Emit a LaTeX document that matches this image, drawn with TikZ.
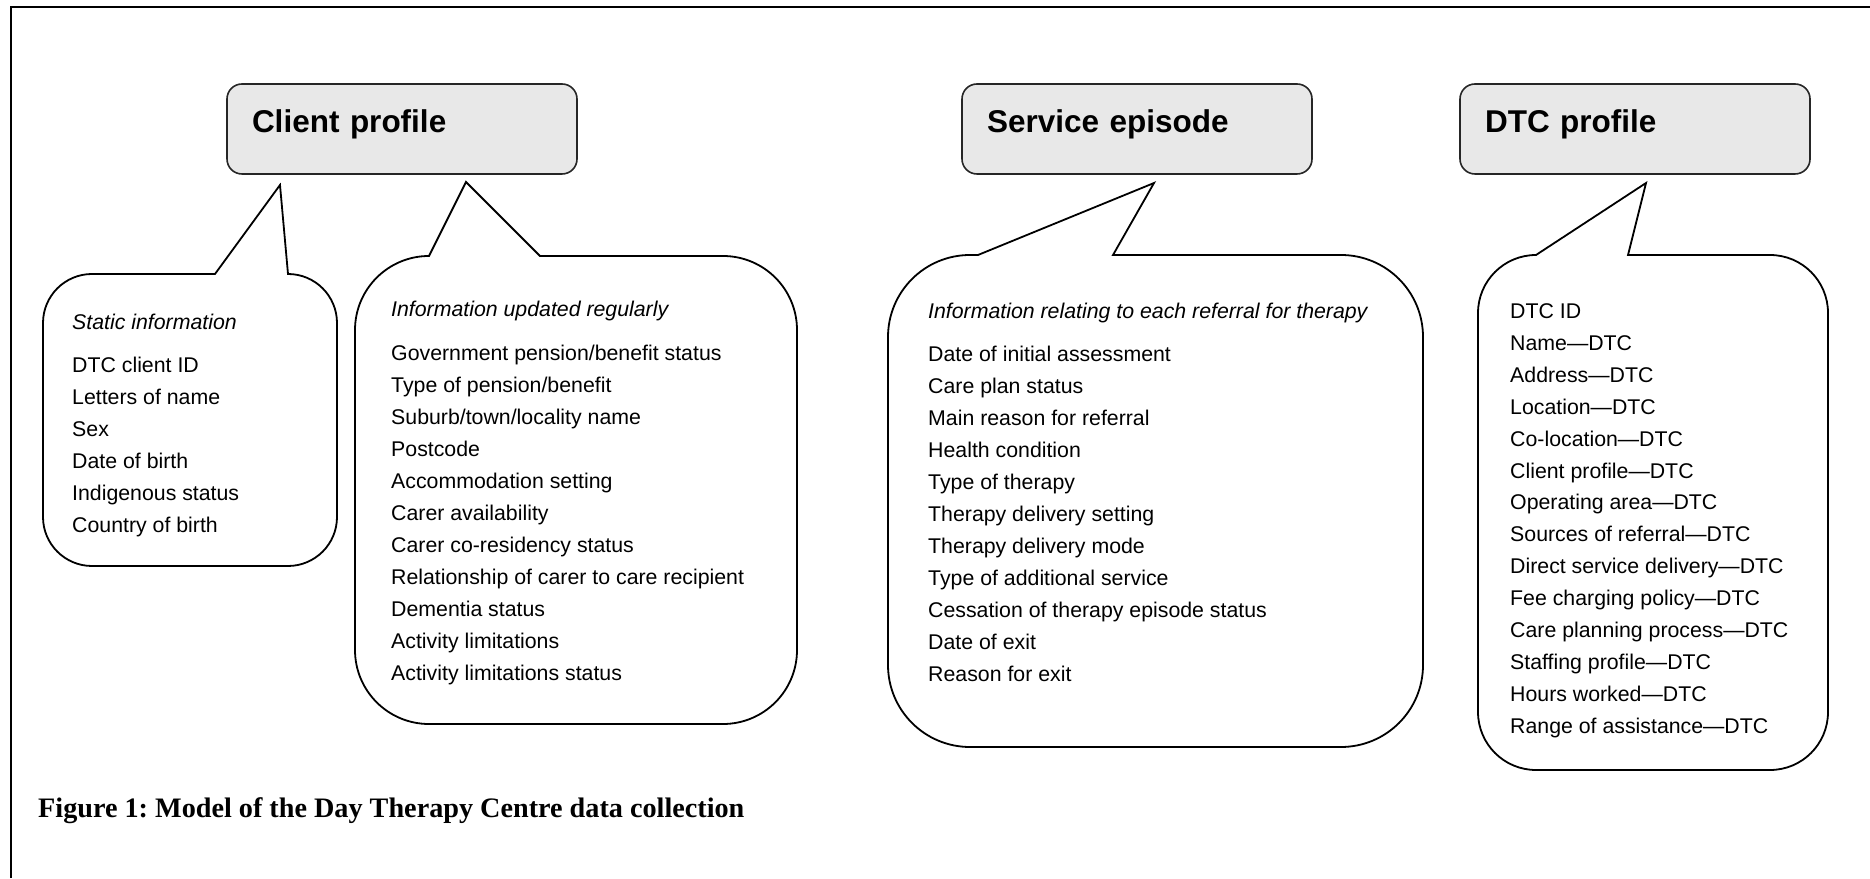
\documentclass[tikz,border=0pt]{standalone}
\usepackage{fontspec}
\setmainfont{Liberation Sans}
\newfontfamily\capfont{Liberation Serif}

\tikzset{
  titlebox/.style={draw=black!85, line width=1.6pt, fill=black!9, rounded corners=15pt,
    inner xsep=25pt, inner ysep=0pt, text width=300pt, text height=49pt, text depth=41pt,
    align=left, font=\fontsize{31.5}{36}\selectfont\bfseries},
  bubble/.style={draw, line width=1.8pt},
  item/.style={anchor=base west, inner sep=0pt, font=\fontsize{21.3}{26}\selectfont},
  itemhead/.style={item, font=\fontsize{21.3}{26}\selectfont\itshape},
}

\begin{document}
\begin{tikzpicture}[x=1pt,y=1pt]
	\useasboundingbox (0,0) rectangle (1870,878);
	\draw[line width=2pt] (11,0) -- (11,871) -- (1870,871);

	% les trois titres
	\node[titlebox] (client) at (402,749) {Client profile};
	\node[titlebox] (episode) at (1137,749) {Service episode};
	\node[titlebox] (dtc) at (1635,749) {DTC profile};

	% bulle statique
	\draw[bubble] (215,604) -- (280,693) -- (288,604)
		arc[start angle=90, end angle=0, radius=49pt] -- (337,361)
		arc[start angle=0, end angle=-90, radius=49pt] -- (92,312)
		arc[start angle=270, end angle=180, radius=49pt] -- (43,555)
		arc[start angle=180, end angle=90, radius=49pt] -- cycle;
	\node[itemhead] (static-0) at (72,548) {Static information};
	\foreach \t [count=\i] in {DTC client ID, Letters of name, Sex, Date of birth,
		Indigenous status, Country of birth}
		\node[item] (static-\i) at (72, 537-32*\i) {\t};

	% bulle mise a jour
	\draw[bubble] (429,622) -- (466,696) -- (540,622) -- (723,622)
		arc[start angle=90, end angle=0, radius=74pt] -- (797,228)
		arc[start angle=0, end angle=-90, radius=74pt] -- (429,154)
		arc[start angle=270, end angle=180, radius=74pt] -- (355,548)
		arc[start angle=180, end angle=90, radius=74pt] -- cycle;
	\node[itemhead] (upd-0) at (391,561) {Information updated regularly};
	\foreach \t [count=\i] in {Government pension/benefit status, Type of pension/benefit,
		Suburb/town/locality name, Postcode, Accommodation setting, Carer availability,
		Carer co-residency status, Relationship of carer to care recipient,
		Dementia status, Activity limitations, Activity limitations status}
		\node[item] (upd-\i) at (391, 549-32*\i) {\t};

	% bulle episode
	\draw[bubble] (978,623) -- (1154,695) -- (1113,623) -- (1341,623)
		arc[start angle=90, end angle=0, radius=82pt] -- (1423,213)
		arc[start angle=0, end angle=-90, radius=82pt] -- (970,131)
		arc[start angle=270, end angle=180, radius=82pt] -- (888,541)
		arc[start angle=180, end angle=90, radius=82pt] -- cycle;
	\node[itemhead] (epi-0) at (928,559) {Information relating to each referral for therapy};
	\foreach \t [count=\i] in {Date of initial assessment, Care plan status,
		Main reason for referral, Health condition, Type of therapy,
		Therapy delivery setting, Therapy delivery mode, Type of additional service,
		Cessation of therapy episode status, Date of exit, Reason for exit}
		\node[item] (epi-\i) at (928, 548-32*\i) {\t};

	% bulle DTC
	\draw[bubble] (1536,623) -- (1646,695) -- (1628,623) -- (1770,623)
		arc[start angle=90, end angle=0, radius=58pt] -- (1828,166)
		arc[start angle=0, end angle=-90, radius=58pt] -- (1536,108)
		arc[start angle=270, end angle=180, radius=58pt] -- (1478,565)
		arc[start angle=180, end angle=90, radius=58pt] -- cycle;
	\foreach \t [count=\i] in {DTC ID, Name—DTC, Address—DTC, Location—DTC,
		Co-location—DTC, Client profile—DTC, Operating area—DTC,
		Sources of referral—DTC, Direct service delivery—DTC, Fee charging policy—DTC,
		Care planning process—DTC, Staffing profile—DTC, Hours worked—DTC,
		Range of assistance—DTC}
		\node[item] (dtc-\i) at (1510, 591.3-31.9*\i) {\t};

	% legende
	\node[anchor=base west, inner sep=0pt,
		font=\capfont\bfseries\frenchspacing\fontsize{28.2}{32}\selectfont]
		(caption) at (38,61) {Figure 1: Model of the Day Therapy Centre data collection};
\end{tikzpicture}
\end{document}
